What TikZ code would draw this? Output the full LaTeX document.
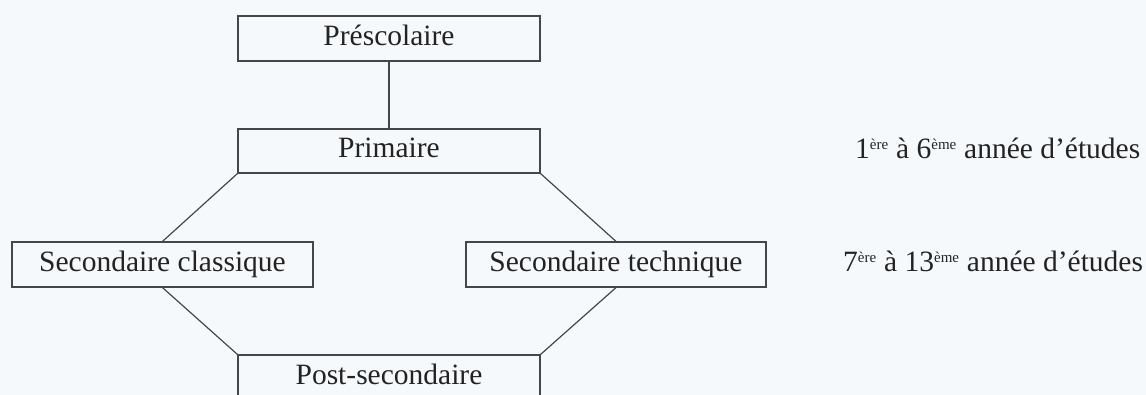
\documentclass[tikz,border=0pt]{standalone}
\usepackage{fontspec}
\setmainfont{Liberation Serif}
\definecolor{bgc}{RGB}{246,249,252}
\definecolor{linec}{RGB}{70,70,70}
\definecolor{txtc}{RGB}{35,35,35}
\newcommand{\supx}[1]{\textsuperscript{\fontsize{15}{15}\selectfont #1}}
\begin{document}
\begin{tikzpicture}[x=1pt,y=-1pt,
  box/.style={draw=linec, line width=1.2pt, minimum height=45pt, inner sep=0pt,
    text height=20pt, text depth=6pt, text=txtc, font=\fontsize{29.5}{35}\selectfont},
  lbl/.style={anchor=west, inner sep=0pt, text height=20pt, text depth=6pt, text=txtc,
    font=\fontsize{29.5}{35}\selectfont},
  conn/.style={draw=linec, line width=1.2pt}]
\clip (0,0) rectangle (1146,395);
\fill[bgc] (0,0) rectangle (1146,395);
\node[box, minimum width=302pt] (pre) at (389,38.5) {Préscolaire};
\node[box, minimum width=302pt, minimum height=44pt] (pri) at (389,151) {Primaire};
\node[box, minimum width=301pt] (cla) at (162.5,264.5) {Secondaire classique};
\node[box, minimum width=300pt] (tec) at (616,264.5) {Secondaire technique};
\node[box, minimum width=302pt] (post) at (389,377.5) {Post-secondaire};
\node[lbl] (l1) at (855,152) {1\supx{ère} à 6\supx{ème} année d’études};
\node[lbl] (l2) at (843,264.5) {7\supx{ère} à 13\supx{ème} année d’études};
\draw[conn] (pre.south) -- (pri.north);
\draw[conn] (pri.south west) -- (cla.north);
\draw[conn] (pri.south east) -- (tec.north);
\draw[conn] (cla.south) -- (post.north west);
\draw[conn] (tec.south) -- (post.north east);
\end{tikzpicture}
\end{document}
